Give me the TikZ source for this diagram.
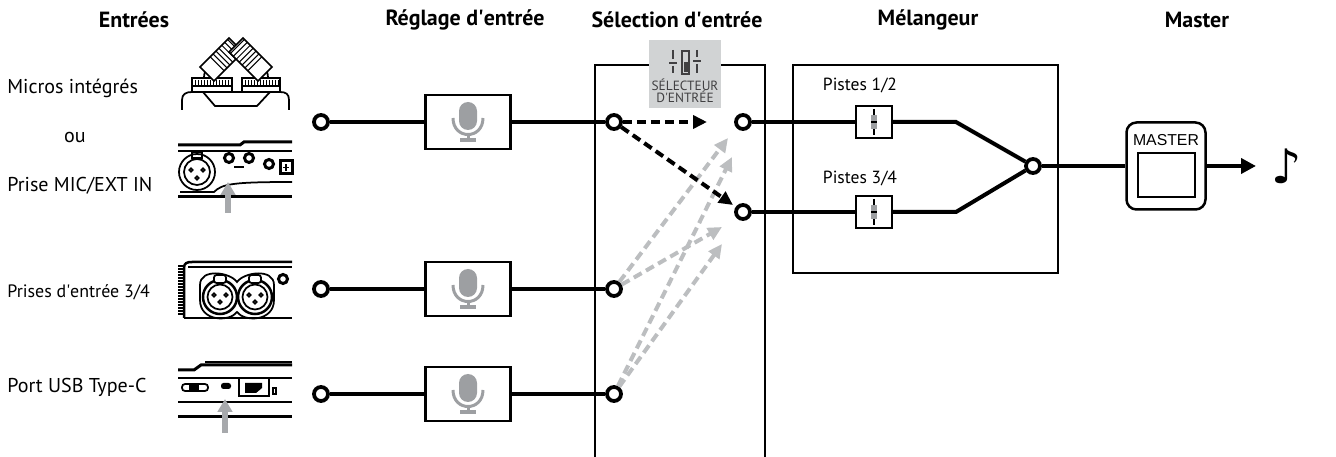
\documentclass[tikz,border=0pt]{standalone}
\usepackage{fontspec}
\setmainfont{PT Sans}
\newfontfamily\masterfont{Liberation Sans}
\newfontfamily\notefont{DejaVu Sans}
\usepackage{xcolor}
\usepackage{tikz}
\usetikzlibrary{arrows.meta}
\usetikzlibrary{positioning}
\usetikzlibrary{calc}
\definecolor{arrowgray}{HTML}{BCBEC0}
\definecolor{pointgray}{HTML}{A7A9AC}
\definecolor{micgray}{HTML}{9D9FA2}
\definecolor{tabgray}{HTML}{D1D3D4}
\definecolor{inkgray}{HTML}{414042}
\tikzset{
    header/.style = {inner sep=0, font=\bfseries\fontsize{12.5}{14}\selectfont},
    inlabel/.style = {inner sep=0, anchor=west, font=\fontsize{11.4}{13}\selectfont},
    port/.style = {circle, draw=black, fill=white, line width=0.75mm, inner sep=0, minimum size=2.8mm},
    trimbox/.style = {rectangle, draw=black, line width=0.55mm, inner sep=0, minimum width=17mm, minimum height=10.8mm},
    faderbox/.style = {rectangle, draw=black, line width=0.45mm, inner sep=0, minimum width=7.2mm, minimum height=6.4mm},
    wire/.style = {line width=0.8mm},
    frameline/.style = {line width=0.45mm},
    selb/.style = {line width=0.8mm, dash pattern=on 1.8mm off 1mm, -{Triangle[length=2.8mm,width=2.6mm]}},
    selg/.style = {selb, draw=arrowgray},
    pointer/.style = {draw=pointgray, line width=1.2mm, -{Triangle[length=2.6mm,width=2.9mm]}},
    mic/.pic = {
        \fill[micgray, rounded corners=1.8mm] (-9,-20) rectangle (9,8);
        \draw[micgray, line width=0.6mm] (-15,-4) .. controls (-15,18) and (15,18) .. (15,-4);
        \draw[micgray, line width=0.6mm] (0,12) -- (0,18);
        \draw[micgray, line width=0.7mm] (-8,18) -- (8,18);
    },
    fader/.pic = {
        \draw[line width=0.45mm] (0,-13) -- (0,13);
        \fill[micgray] (-3,-7) rectangle (3,7);
        \draw[line width=0.5mm] (-3,0) -- (3,0);
    },
}
\begin{document}
\begin{tikzpicture}[x=0.2mm, y=-0.2mm]
\useasboundingbox (0,0) rectangle (1336,457);
% headers
\node[header] at (134,20) {Entrées};
\node[header] at (465,20) {Réglage d\textquotesingle entrée};
\node[header] at (677,20) {Sélection d\textquotesingle entrée};
\node[header] at (928,20) {Mélangeur};
\node[header] at (1197,20) {Master};
%
\node[inlabel] at (7,88) {Micros intégrés};
\node[inlabel, anchor=center] at (75,137) {ou};
\node[inlabel] at (7,186) {Prise MIC/EXT IN};
\node[inlabel, font=\fontsize{10.2}{12}\selectfont] at (7,292) {Prises d\textquotesingle entrée 3/4};
\node[inlabel] at (7,387) {Port USB Type-C};
% device: built-in mics
\begin{scope}[line width=0.35mm]
\draw (182,110) -- (182,100) .. controls (182,94) and (186,92) .. (192,92) -- (280,92) .. controls (286,92) and (289,94) .. (289,100) -- (289,110);
\draw (203,92) -- (215,106) -- (257,106) -- (270,92);
\draw (204,78) .. controls (204,70) and (208,66) .. (214,66);
\draw (268,78) .. controls (268,70) and (264,66) .. (258,66);
\draw[fill=white] (192,78) rectangle (232,92);
\draw[fill=white] (242,78) rectangle (280,92);
\foreach \i in {195,198,...,229} \draw[line width=0.2mm] (\i,80) -- (\i,86);
\foreach \i in {245,248,...,278} \draw[line width=0.2mm] (\i,80) -- (\i,86);
\draw[line width=0.5mm] (192,86) -- (232,86) (242,86) -- (280,86);
\draw[fill=white] (200,67) -- (214,81) -- (243,52) -- (229,38) -- cycle;
\foreach \t in {0.35,0.45,...,0.96} \draw[line width=0.2mm] ($(200,67)!\t!(229,38)$) -- ($(214,81)!\t!(243,52)$);
\draw[fill=white] (272,67) -- (258,81) -- (229,52) -- (243,38) -- cycle;
\foreach \t in {0.35,0.45,...,0.96} \draw[line width=0.2mm] ($(272,67)!\t!(243,38)$) -- ($(258,81)!\t!(229,52)$);
\end{scope}
% device: MIC/EXT IN side
\begin{scope}[line width=0.35mm]
\draw[line width=0.6mm] (178,145) -- (240,145) -- (244,142) -- (292,142);
\draw (178,151) -- (292,151);
\draw[line width=0.6mm] (178,197) -- (292,197);
\draw (180,192) -- (214,192) .. controls (222,184) and (232,182) .. (292,182);
\draw (197,172) circle (3.6mm);
\draw (197,172) circle (2.6mm);
\draw (197,155) ++(-5,-3) rectangle ++(10,6);
\foreach \p in {(191,170),(203,170),(197,178)} \draw \p circle (0.35mm);
\foreach \p in {(229,158),(249,158),(269,164)} \draw[line width=0.6mm] \p circle (0.9mm);
\draw (234,167) -- (244,167);
\draw[line width=0.6mm] (280,161) rectangle (292,174);
\draw (283,167.5) -- (289,167.5) (286,164) -- (286,171);
\end{scope}
\draw[pointer] (228,213) -- (228,182);
% device: inputs 3/4
\begin{scope}[line width=0.35mm]
\draw[line width=0.5mm] (184,318) -- (184,268) .. controls (184,263) and (187,262) .. (192,262) -- (292,262);
\draw (188,267) -- (292,267);
\draw[line width=0.5mm] (184,318) -- (292,318);
\foreach \i in {266,269,...,316} \draw[line width=0.25mm] (178,\i) -- (184,\i);
\draw (200,285) .. controls (200,268) and (230,272) .. (237,282) .. controls (244,272) and (274,268) .. (274,285) -- (274,300) .. controls (274,322) and (244,322) .. (237,312) .. controls (230,322) and (200,322) .. (200,300) -- cycle;
\foreach \c in {220,255} {
    \draw[line width=0.5mm] (\c,297) circle (3.4mm);
    \draw (\c,297) circle (2.5mm);
    \draw[fill=white, rounded corners=0.5mm] (\c-6,275) rectangle (\c+6,283);
    \draw (\c-6,295) circle (0.35mm) (\c+6,295) circle (0.35mm) (\c,302) circle (0.35mm);
}
\draw[line width=0.6mm] (283,279) circle (0.9mm);
\end{scope}
% device: USB Type-C
\begin{scope}[line width=0.35mm]
\draw (205,362) -- (292,362);
\draw[line width=0.6mm] (178,370) -- (194,370) -- (201,365) -- (292,365);
\draw (178,378) -- (292,378);
\draw (178,402) -- (292,402);
\draw[line width=0.6mm] (178,417) -- (292,417);
\draw[rounded corners=0.6mm] (182,384) rectangle (208,391);
\fill (189,385) rectangle (199,390);
\fill[rounded corners=0.5mm] (221,383) rectangle (231,389);
\draw[line width=0.5mm] (239,378) rectangle (269,396);
\fill (245,383) -- (262,383) -- (262,388) -- (256,393) -- (245,393) -- cycle;
\draw (273,388) rectangle (276,394);
\end{scope}
\draw[pointer] (225,433) -- (225,399);
% selection frame
\draw[frameline] (595,457) -- (595,65) -- (765,65) -- (765,457);
\node[rectangle, fill=tabgray, inner sep=0, minimum width=14.4mm, minimum height=13.6mm] (selector) at (685,74) {};
\begin{scope}[draw=inkgray, line width=0.45mm]
\draw (673,50) -- (673,59) (673,66) -- (673,73) (669,63) -- (677,63);
\draw (697,50) -- (697,57) (697,64) -- (697,73) (693,61) -- (701,61);
\draw (682,51) rectangle (689,74);
\fill[inkgray] (683.5,62) rectangle (687.5,72);
\end{scope}
\node[inner sep=0, text=inkgray, font=\fontsize{7.6}{8}\selectfont] at (685,85) {SÉLECTEUR};
\node[inner sep=0, text=inkgray, font=\fontsize{7.6}{8}\selectfont] at (685,97) {D\textquotesingle ENTRÉE};
% rows
\node[port] (in1) at (321,122) {};
\node[port] (in2) at (321,289) {};
\node[port] (in3) at (321,394) {};
\node[trimbox] (trim1) at (468,122) {};
\node[trimbox] (trim2) at (468,289) {};
\node[trimbox] (trim3) at (468,394) {};
\pic at (trim1) {mic};
\pic at (trim2) {mic};
\pic at (trim3) {mic};
\node[port] (sel1) at (614,122) {};
\node[port] (sel2) at (614,289) {};
\node[port] (sel3) at (614,394) {};
%
\draw[wire] (in1) -- (trim1);
\draw[wire] (trim1) -- (sel1);
\draw[wire] (in2) -- (trim2);
\draw[wire] (trim2) -- (sel2);
\draw[wire] (in3) -- (trim3);
\draw[wire] (trim3) -- (sel3);
% routing
\node[port] (bus1) at (743,122) {};
\node[port] (bus2) at (743,212) {};
\coordinate (t1) at (707,122);
\coordinate (t2) at (733,205);
\coordinate (g1) at (728,138);
\coordinate (g2) at (722,227);
\coordinate (g3) at (732,157);
\coordinate (g4) at (722,244);
\draw[selg] (sel2) -- (g1);
\draw[selg] (sel2) -- (g2);
\draw[selg] (sel3) -- (g3);
\draw[selg] (sel3) -- (g4);
\draw[selb] (sel1) -- (t1);
\draw[selb] (sel1) -- (t2);
% mixer
\draw[frameline] (793,65) rectangle (1058,273);
\node[inner sep=0, font=\fontsize{10}{12}\selectfont] at (860,85) {Pistes 1/2};
\node[inner sep=0, font=\fontsize{10}{12}\selectfont] at (860,178) {Pistes 3/4};
\node[faderbox] (fad1) at (874,122) {};
\node[faderbox] (fad2) at (874,212) {};
\pic at (fad1) {fader};
\pic at (fad2) {fader};
\node[port] (sum) at (1033,166) {};
\coordinate (k1) at (956,122);
\coordinate (k2) at (956,212);
\draw[wire] (bus1) -- (fad1);
\draw[wire] (bus2) -- (fad2);
\draw[wire] (fad1) -- (k1) -- (sum);
\draw[wire] (fad2) -- (k2) -- (sum);
% master
\node[rectangle, draw=black, line width=0.5mm, rounded corners=2mm, inner sep=0, minimum width=15.8mm, minimum height=17.4mm] (master) at (1166,166) {};
\node[inner sep=0, font=\masterfont\fontsize{9}{10}\selectfont] at (1166,140) {MASTER};
\draw[line width=0.5mm] (1138,153) rectangle (1195,197);
\coordinate (outtip) at (1256,166);
\node[inner sep=0, font=\notefont\fontsize{27}{28}\selectfont] (note) at (1287,166) {♪};
\draw[wire] (sum) -- (master);
\draw[wire, -{Triangle[length=3mm,width=3mm]}] (master) -- (outtip);
\end{tikzpicture}
\end{document}
